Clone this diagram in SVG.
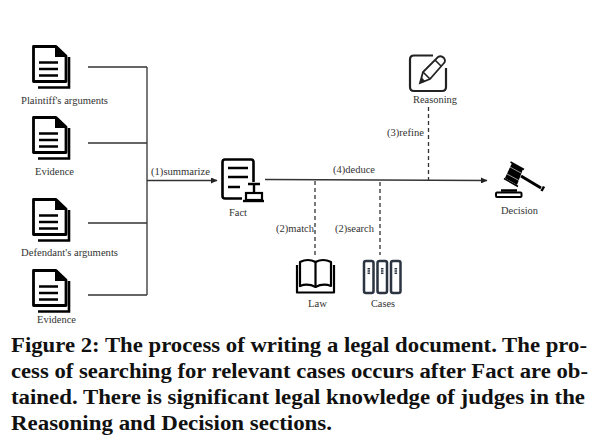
<svg xmlns="http://www.w3.org/2000/svg" width="608" height="445" viewBox="0 0 608 445">
<style>
text{font-family:"Liberation Serif","Times New Roman",serif;fill:#333}
.l{font-size:10.800px}
.c{font-size:20.500px;font-weight:bold;fill:#111}
.w{fill:none;stroke:#333;stroke-width:1.300}
.d{fill:none;stroke:#333;stroke-width:1.300;stroke-dasharray:4 3}
.k{fill:none;stroke:#000;stroke-width:2.200;stroke-linejoin:round}
.b{fill:none;stroke:#2b3440;stroke-width:2.500}
</style>
<defs>
<marker id="a" markerWidth="7" markerHeight="6" refX="6" refY="3" orient="auto" markerUnits="userSpaceOnUse"><path d="M0 0L6.500 3L0 6z" fill="#222"/></marker>
<g id="doc">
<path d="M33.500 46.500H56L66 56V81.500H33.500z" fill="#fff" stroke="#000" stroke-width="2.800" stroke-linejoin="round"/>
<path d="M55 46L66 57H55z" fill="#000"/>
<path d="M39 62.500H58M39 69H58M39 75.500H58" stroke="#000" stroke-width="2.500"/>
<path d="M69 57V87.500H38" fill="none" stroke="#000" stroke-width="2.600"/>
</g>
</defs>
<rect width="608" height="445" fill="#fff"/>
<g id="connectors">
<path class="w" d="M88 67H147M88 143H147M88 223H147M88 295H147M147 67V295"/>
<path class="w" d="M147 180.500H217" marker-end="url(#a)"/>
<path class="w" d="M265 179.500L487 180.500" marker-end="url(#a)"/>
<path class="d" d="M315 181V255M380 182V255M428.500 107V180"/>
</g>
<g id="plaintiff"><use href="#doc"/><text class="l" x="21" y="104" textLength="87" lengthAdjust="spacingAndGlyphs">Plaintiff's arguments</text></g>
<g id="evidence1"><use href="#doc" y="71"/><text class="l" x="35" y="175" textLength="39" lengthAdjust="spacingAndGlyphs">Evidence</text></g>
<g id="defendant"><use href="#doc" y="153"/><text class="l" x="21" y="256" textLength="97" lengthAdjust="spacingAndGlyphs">Defendant's arguments</text></g>
<g id="evidence2"><use href="#doc" y="224"/><text class="l" x="37" y="323" textLength="39" lengthAdjust="spacingAndGlyphs">Evidence</text></g>
<text class="l" x="151" y="175" textLength="59" lengthAdjust="spacingAndGlyphs">(1)summarize</text>
<g id="fact">
<path d="M242 198.500H225Q222.500 198.500 222.500 196V162Q222.500 159.500 225 159.500H251Q253.500 159.500 253.500 162V182" fill="none" stroke="#000" stroke-width="2.600"/>
<path d="M228 168H248M228 177H248M228 187H240" stroke="#000" stroke-width="2.400" fill="none"/>
<path d="M248 184H260M254 184V193" fill="none" stroke="#000" stroke-width="2.400"/>
<rect x="246" y="193" width="16" height="7" fill="none" stroke="#000" stroke-width="2.200"/>
<path d="M243 201H264" stroke="#000" stroke-width="2.400"/>
<text class="l" x="229" y="216" textLength="18" lengthAdjust="spacingAndGlyphs">Fact</text>
</g>
<text class="l" x="333" y="173" textLength="42" lengthAdjust="spacingAndGlyphs">(4)deduce</text>
<text class="l" x="276" y="232" textLength="38" lengthAdjust="spacingAndGlyphs">(2)match</text>
<text class="l" x="335" y="232" textLength="39" lengthAdjust="spacingAndGlyphs">(2)search</text>
<text class="l" x="387" y="136" textLength="37" lengthAdjust="spacingAndGlyphs">(3)refine</text>
<g id="law">
<path d="M297 265V292.500H334V265" class="k"/>
<path d="M300 286V262Q308 258 315.500 262Q323 258 331 262V286Q323 283 315.500 287Q308 283 300 286z" class="k"/>
<path d="M315.500 262V287" class="k"/>
<text class="l" x="308" y="307" textLength="19" lengthAdjust="spacingAndGlyphs">Law</text>
</g>
<g id="cases">
<rect x="364" y="261" width="9.500" height="32" rx="2" class="b"/>
<rect x="377.500" y="261" width="9.500" height="32" rx="2" class="b"/>
<rect x="391" y="261" width="9.500" height="32" rx="2" class="b"/>
<path d="M368.800 268V275M382.200 268V275M395.800 268V275" stroke="#2b3440" stroke-width="2.500" stroke-dasharray="1.500 .8"/>
<text class="l" x="371" y="307" textLength="24" lengthAdjust="spacingAndGlyphs">Cases</text>
</g>
<g id="reasoning">
<path d="M433 55.500H414Q410 55.500 410 59.500V87Q410 91 414 91H442Q446 91 446 87V68" fill="none" stroke="#222" stroke-width="2.200"/>
<path d="M420 83L423 72L438 57Q441 55 444 58Q446 61 444 63L430 79z" fill="#fff" stroke="#222" stroke-width="1.800"/>
<path d="M435 60L441 66M423 72L430 79" stroke="#222" stroke-width="1.600" fill="none"/>
<path d="M419.500 83.500L421.500 77L425.500 81.500z" fill="#222"/>
<text class="l" x="413" y="103" textLength="44" lengthAdjust="spacingAndGlyphs">Reasoning</text>
</g>
<g id="decision">
<path d="M512 163L523 169L517 185L505 178z" fill="#000"/>
<path d="M510.500 162L524 169.500M504 178.500L518 186.500" stroke="#000" stroke-width="1.500"/>
<path d="M509 166.500L521 173M507 174L519 180.500" stroke="#fff" stroke-width=".6"/>
<path d="M521 176L541 188" stroke="#000" stroke-width="3"/>
<path d="M541.500 191L544 186.500" stroke="#000" stroke-width="2.500"/>
<rect x="496" y="192.500" width="25.500" height="4.500" rx="1" fill="#fff" stroke="#000" stroke-width="2"/>
<path d="M501 190.500H517" stroke="#000" stroke-width="2.500"/>
<text class="l" x="501" y="214" textLength="37" lengthAdjust="spacingAndGlyphs">Decision</text>
</g>
<g id="caption">
<text class="c" x="11" y="352" textLength="576" lengthAdjust="spacingAndGlyphs">Figure 2: The process of writing a legal document. The pro-</text>
<text class="c" x="11" y="378" textLength="577" lengthAdjust="spacingAndGlyphs">cess of searching for relevant cases occurs after Fact are ob-</text>
<text class="c" x="11" y="404" textLength="574" lengthAdjust="spacingAndGlyphs">tained. There is significant legal knowledge of judges in the</text>
<text class="c" x="11" y="430" textLength="321" lengthAdjust="spacingAndGlyphs">Reasoning and Decision sections.</text>
</g>
</svg>
